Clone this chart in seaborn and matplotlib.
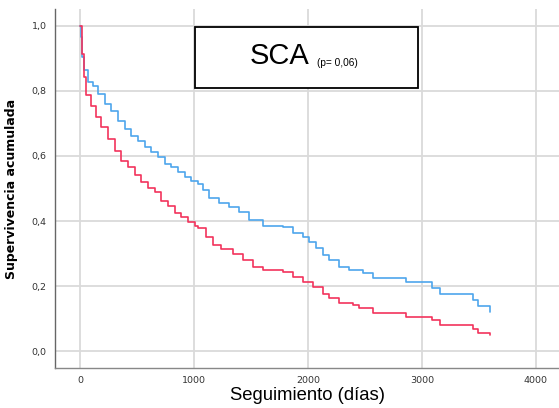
import numpy as np
import pandas as pd
import matplotlib
matplotlib.use('Agg')
import matplotlib.pyplot as plt
import seaborn as sns
from matplotlib.patches import Rectangle

# Kaplan-Meier step curves (days, cumulative survival)
t_blue = [0, 6, 18, 35, 70, 114, 158, 216, 275, 333, 392, 450, 509, 567, 626, 684,
          743, 801, 860, 918, 977, 1035, 1076, 1135, 1222, 1310, 1398, 1485, 1602,
          1778, 1866, 1953, 2012, 2070, 2129, 2187, 2275, 2362, 2480, 2567, 2860,
          3085, 3158, 3450, 3494, 3596, 3600]
s_blue = [1.0, 0.965, 0.904, 0.863, 0.827, 0.816, 0.791, 0.760, 0.739, 0.709, 0.683,
          0.662, 0.647, 0.627, 0.611, 0.596, 0.575, 0.565, 0.550, 0.534, 0.524, 0.514,
          0.495, 0.470, 0.454, 0.442, 0.429, 0.403, 0.385, 0.382, 0.362, 0.350, 0.336,
          0.316, 0.295, 0.280, 0.259, 0.249, 0.239, 0.226, 0.213, 0.193, 0.177, 0.157,
          0.139, 0.121, 0.121]

t_red = [0, 18, 35, 56, 99, 143, 187, 246, 304, 363, 421, 480, 538, 596, 655, 713,
         772, 830, 889, 947, 1006, 1035, 1105, 1164, 1237, 1339, 1427, 1515, 1602,
         1778, 1866, 1953, 2041, 2129, 2187, 2275, 2392, 2450, 2573, 2860, 3085,
         3158, 3450, 3494, 3596, 3600]
s_red = [1.0, 0.914, 0.842, 0.786, 0.755, 0.719, 0.688, 0.652, 0.616, 0.586, 0.565,
         0.540, 0.519, 0.503, 0.488, 0.462, 0.447, 0.426, 0.411, 0.396, 0.386, 0.380,
         0.352, 0.326, 0.313, 0.300, 0.280, 0.259, 0.249, 0.244, 0.229, 0.213, 0.198,
         0.177, 0.162, 0.147, 0.141, 0.131, 0.116, 0.104, 0.095, 0.079, 0.068, 0.056,
         0.049, 0.049]

x_ticks = [0, 1000, 2000, 3000, 4000]
x_tick_labels = ['0', '1000', '2000', '3000', '4000']
y_ticks = [0.0, 0.2, 0.4, 0.6, 0.8, 1.0]
y_tick_labels = ['0,0', '0,2', '0,4', '0,6', '0,8', '1,0']

sns.set_style('white')
plt.rcParams['font.family'] = ['DejaVu Sans']

fig = plt.figure(figsize=(5.59, 4.08), dpi=100)
ax = fig.add_axes([55 / 559, 40 / 408, 504 / 559, 359 / 408])

blue = pd.DataFrame({'t': t_blue, 's': s_blue})
red = pd.DataFrame({'t': t_red, 's': s_red})
sns.lineplot(data=blue, x='t', y='s', drawstyle='steps-post', color='#4ea6ec',
             linewidth=1.2, estimator=None, ax=ax, zorder=3)
sns.lineplot(data=red, x='t', y='s', drawstyle='steps-post', color='#f2335c',
             linewidth=1.2, estimator=None, ax=ax, zorder=4)

ax.set_xlim(-219, 4202)
ax.set_ylim(-0.052, 1.052)
ax.set_xticks(x_ticks)
ax.set_xticklabels(x_tick_labels)
ax.set_yticks(y_ticks)
ax.set_yticklabels(y_tick_labels)
ax.tick_params(length=0, labelsize=6.8, colors='#333333', pad=6)
ax.grid(True, color='#dadada', linewidth=1.3)
ax.set_axisbelow(True)

for side in ['top', 'right']:
    ax.spines[side].set_visible(False)
ax.spines['left'].set_color('#666666')
ax.spines['bottom'].set_color('#888888')
ax.spines['left'].set_linewidth(1.0)
ax.spines['bottom'].set_linewidth(1.0)

ax.set_ylabel('Supervivencia acumulada', fontsize=9, fontweight='bold', labelpad=10,
              color='black')
ax.set_xlabel('Seguimiento (días)', fontsize=13.3, family='Liberation Sans', labelpad=1,
              color='black')

# title box
fig.patches.append(Rectangle((195 / 559, 1 - 87.5 / 408), 223 / 559, 60.5 / 408,
                             transform=fig.transFigure, facecolor='white',
                             edgecolor='black', linewidth=1.3, zorder=10))
fig.text(280 / 559, 1 - 56 / 408, 'SCA', fontsize=21, family='Liberation Sans',
         ha='center', va='center', color='black', zorder=11)
fig.text(317 / 559, 1 - 66 / 408, '(p= 0,06)', fontsize=7.3, family='Liberation Sans',
         ha='left', va='baseline', color='black', zorder=11)

plt.savefig('out.png', dpi=100)
plt.close()
